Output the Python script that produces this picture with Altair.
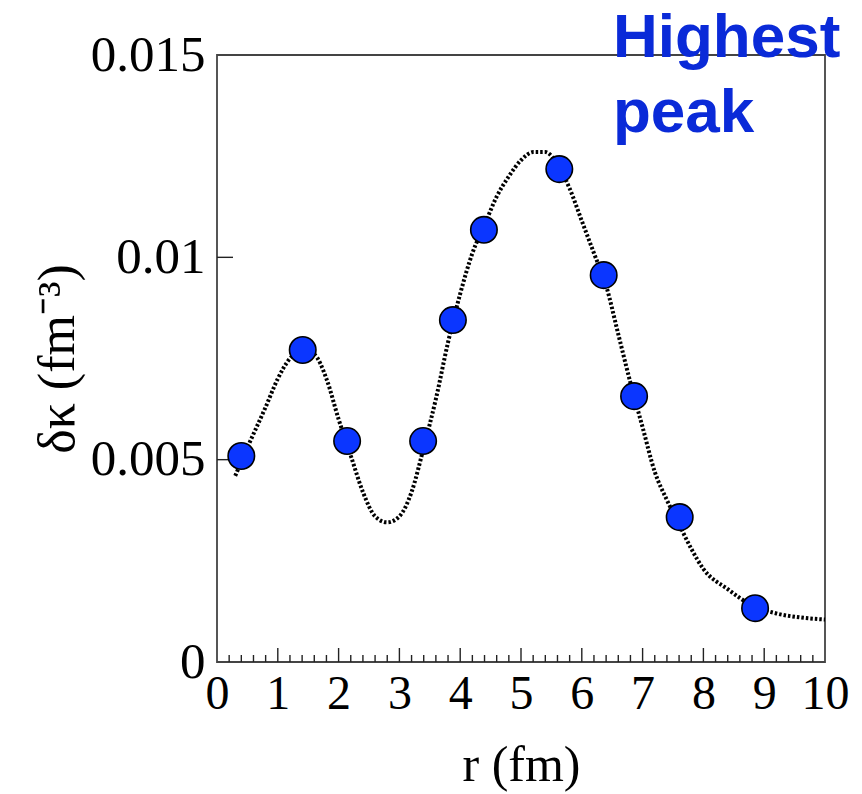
import altair as alt
import pandas as pd

# smooth (dotted) curve
r_curve = [0.3, 0.5, 0.8, 1.0, 1.2, 1.4, 1.6, 1.8, 2.0, 2.2, 2.4, 2.6, 2.8, 3.0, 3.2, 3.4,
           3.6, 3.8, 4.0, 4.2, 4.4, 4.6, 4.8, 5.0, 5.2, 5.4, 5.6, 5.8, 6.0, 6.2, 6.4, 6.6,
           6.8, 7.0, 7.2, 7.4, 7.6, 7.8, 8.0, 8.4, 8.8, 9.2, 9.6, 10.0]
k_curve = [0.0046, 0.0053, 0.0063, 0.0070, 0.0075, 0.0077, 0.0076, 0.0070, 0.0060, 0.0051,
           0.0042, 0.0036, 0.00345, 0.0036, 0.0042, 0.0053, 0.0065, 0.0079, 0.0091, 0.0101,
           0.0108, 0.0115, 0.0120, 0.0124, 0.0126, 0.0126, 0.0123, 0.0117, 0.0109, 0.0101,
           0.0093, 0.0081, 0.0069, 0.0058, 0.0047, 0.0040, 0.0034, 0.0028, 0.0023, 0.0018,
           0.0014, 0.0012, 0.0011, 0.00105]

# blue points
r_pts = [0.40, 1.41, 2.14, 3.39, 3.88, 4.39, 5.63, 6.36, 6.86, 7.61, 8.85]
k_pts = [0.00509, 0.00771, 0.00546, 0.00546, 0.00845, 0.01068, 0.01218, 0.00956,
         0.00657, 0.00358, 0.00133]

# axis ticks
x_major = [1, 2, 3, 4, 5, 6, 7, 8, 9]
x_minor = [0.2, 0.4, 0.6, 0.8, 1.2, 1.4, 1.6, 1.8, 2.2, 2.4, 2.6, 2.8, 3.2, 3.4, 3.6, 3.8,
           4.2, 4.4, 4.6, 4.8, 5.2, 5.4, 5.6, 5.8, 6.2, 6.4, 6.6, 6.8, 7.2, 7.4, 7.6, 7.8,
           8.2, 8.4, 8.6, 8.8, 9.2, 9.4, 9.6, 9.8]
y_major = [0.005, 0.01]

x_labels = [0, 1, 2, 3, 4, 5, 6, 7, 8, 9, 10]
y_labels = [0, 0.005, 0.01, 0.015]

W, H = 608, 607
SERIF = "Liberation Serif"

xs = alt.Scale(domain=[0, 10], nice=False, zero=False)
ys = alt.Scale(domain=[0, 0.015], nice=False, zero=False)

x_axis = alt.Axis(values=x_labels, format="d", title="r (fm)", grid=False, domain=False,
                  ticks=False, labelFont=SERIF, labelFontSize=48, labelColor="black",
                  labelPadding=8, titleFont=SERIF, titleFontSize=50, titleFontWeight="normal",
                  titleColor="black", titlePadding=22, labelFlush=False)
y_axis = alt.Axis(values=y_labels, format="~g", title="δκ (fm⁻³)", grid=False, domain=False,
                  ticks=False, labelFont=SERIF, labelFontSize=51, labelColor="black",
                  labelPadding=12, titleFont=SERIF, titleFontSize=52, titleFontWeight="normal",
                  titleColor="black", titlePadding=6, labelFlush=False)

curve_df = pd.DataFrame({"r": r_curve, "k": k_curve})
pts_df = pd.DataFrame({"r": r_pts, "k": k_pts})

curve = alt.Chart(curve_df).mark_line(
    color="black", strokeWidth=4, strokeDash=[2.5, 2], interpolate="monotone"
).encode(x=alt.X("r:Q", scale=xs, axis=x_axis), y=alt.Y("k:Q", scale=ys, axis=y_axis))

points = alt.Chart(pts_df).mark_point(
    shape="circle", filled=True, size=700, fill="#0b36ff", stroke="black",
    strokeWidth=1.6, opacity=1
).encode(x=alt.X("r:Q", scale=xs), y=alt.Y("k:Q", scale=ys))

xmaj = alt.Chart(pd.DataFrame({"t": x_major})).mark_rule(color="#222", strokeWidth=1.4).encode(
    x=alt.X("t:Q", scale=xs), y=alt.value(H), y2=alt.value(H - 14))
xmin = alt.Chart(pd.DataFrame({"t": x_minor})).mark_rule(color="#222", strokeWidth=1.4).encode(
    x=alt.X("t:Q", scale=xs), y=alt.value(H), y2=alt.value(H - 7))
ymaj = alt.Chart(pd.DataFrame({"t": y_major})).mark_rule(color="#222", strokeWidth=1.4).encode(
    y=alt.Y("t:Q", scale=ys), x=alt.value(0), x2=alt.value(16))

note = alt.Chart(pd.DataFrame({"t": ["Highest"]})).mark_text(
    text=["Highest", "peak"], align="left", baseline="alphabetic", font="Liberation Sans",
    fontWeight="bold", fontSize=62, lineHeight=75, color="#0a2ad8"
).encode(x=alt.value(396), y=alt.value(2))

chart = alt.layer(curve, xmaj, xmin, ymaj, points, note).properties(
    width=W, height=H,
    autosize=alt.AutoSizeParams(type="none"),
    padding={"left": 217, "top": 55, "right": 37, "bottom": 132},
).configure(background="white").configure_view(stroke="#444", strokeWidth=1.8)

chart.save("out.html", embed_options={"renderer": "svg", "actions": False})
